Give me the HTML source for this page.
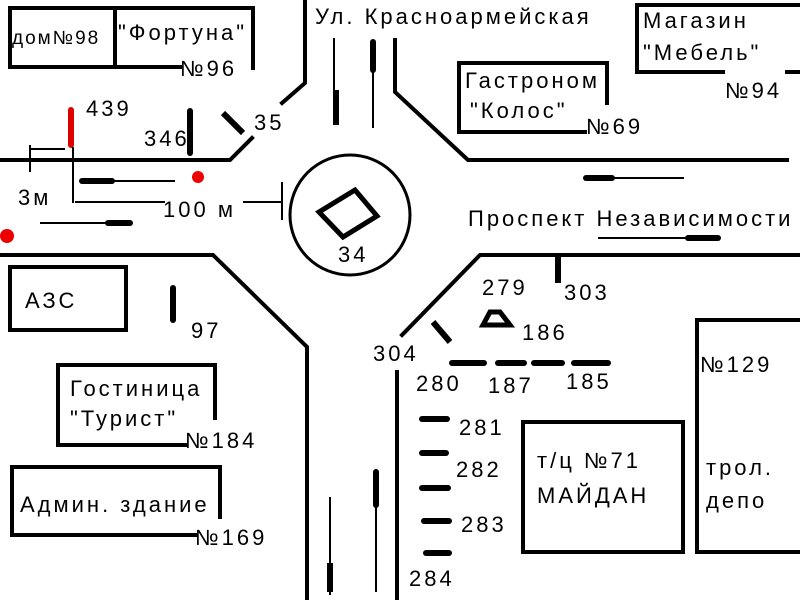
<!DOCTYPE html>
<html><head><meta charset="utf-8"><style>
html,body{margin:0;padding:0;background:#fff;}
svg{display:block;}
text{font-family:"Liberation Sans","DejaVu Sans",sans-serif;font-size:22px;letter-spacing:3px;fill:#000;}
</style></head><body>
<svg width="800" height="600" viewBox="0 0 800 600" xmlns="http://www.w3.org/2000/svg">
<g stroke="#000" stroke-width="4" fill="none" stroke-linecap="square">
<polyline points="0,160 230,160 252,138"/>
<polyline points="282,103 305,83 305,0"/>
<polyline points="395,40 395,92 468,160 787,160"/>
<polyline points="800,255 480,255 402,335"/>
<line x1="397" y1="372" x2="397" y2="600"/>
<polyline points="0,255 213,255 307,347 307,600"/>
<circle cx="350" cy="215" r="60" stroke-width="3"/>
<polygon points="355,190 377,216 343,237 319,212" stroke-width="5"/>
<polyline points="180,67 10,67 10,8 253,8 253,68"/>
<line x1="115" y1="8" x2="115" y2="67"/>
<polyline points="585,132 459,132 459,63 607,63 607,103"/>
<polyline points="723,72 637,72 637,5 800,5"/>
<line x1="787" y1="72" x2="800" y2="72"/>
<rect x="10" y="267" width="116" height="63"/>
<polyline points="185,445 58,445 58,365 215,365 215,418"/>
<polyline points="195,535 12,535 12,467 220,467 220,517"/>
<rect x="523" y="422" width="160" height="130"/>
<polyline points="800,320 697,320 697,552 800,552"/>
</g>
<g stroke="#000" fill="none">
<line x1="80" y1="181" x2="175" y2="181" stroke-width="2"/>
<line x1="82" y1="181" x2="112" y2="181" stroke-width="6" stroke-linecap="round"/>
<line x1="40" y1="223" x2="130" y2="223" stroke-width="2"/>
<line x1="108" y1="223" x2="130" y2="223" stroke-width="6" stroke-linecap="round"/>
<line x1="585" y1="178" x2="684" y2="178" stroke-width="2"/>
<line x1="586" y1="178" x2="612" y2="178" stroke-width="6" stroke-linecap="round"/>
<line x1="598" y1="238" x2="718" y2="238" stroke-width="2"/>
<line x1="688" y1="238" x2="718" y2="238" stroke-width="6" stroke-linecap="round"/>
<line x1="334" y1="38" x2="334" y2="125" stroke-width="2"/>
<line x1="336" y1="90" x2="336" y2="125" stroke-width="6"/>
<line x1="373" y1="40" x2="373" y2="128" stroke-width="2"/>
<line x1="373" y1="42" x2="373" y2="70" stroke-width="6" stroke-linecap="round"/>
<line x1="330" y1="497" x2="330" y2="595" stroke-width="2"/>
<line x1="330" y1="563" x2="330" y2="592" stroke-width="6"/>
<line x1="376" y1="470" x2="376" y2="592" stroke-width="2"/>
<line x1="376" y1="472" x2="376" y2="505" stroke-width="6" stroke-linecap="round"/>
<line x1="71" y1="110" x2="71" y2="145" stroke="#d00" stroke-width="6" stroke-linecap="round"/>
<line x1="190" y1="111" x2="190" y2="153" stroke-width="6" stroke-linecap="round"/>
<line x1="223" y1="113" x2="243" y2="133" stroke-width="6"/>
<line x1="173" y1="288" x2="173" y2="320" stroke-width="6" stroke-linecap="round"/>
<line x1="558" y1="255" x2="558" y2="283" stroke-width="6"/>
<line x1="433" y1="322" x2="450" y2="342" stroke-width="6"/>
<g stroke-width="6" stroke-linecap="round">
<line x1="452" y1="363" x2="484" y2="363"/>
<line x1="498" y1="363" x2="524" y2="363"/>
<line x1="534" y1="363" x2="562" y2="363"/>
<line x1="574" y1="363" x2="608" y2="363"/>
<line x1="422" y1="419" x2="447" y2="419"/>
<line x1="422" y1="453" x2="446" y2="453"/>
<line x1="422" y1="488" x2="448" y2="488"/>
<line x1="424" y1="521" x2="449" y2="521"/>
<line x1="426" y1="553" x2="449" y2="553"/>
</g>
<polygon points="483,325 510,325 500,312 490,312" stroke-width="5" fill="#fff"/>
<line x1="73" y1="147" x2="73" y2="203" stroke-width="2"/>
<line x1="30" y1="149" x2="65" y2="149" stroke-width="2"/>
<line x1="30" y1="145" x2="30" y2="172" stroke-width="2"/>
<line x1="75" y1="202" x2="165" y2="202" stroke-width="2"/>
<line x1="243" y1="202" x2="283" y2="202" stroke-width="2"/>
<line x1="282" y1="182" x2="282" y2="220" stroke-width="2"/>
</g>
<circle cx="198" cy="177" r="6" fill="#e00"/>
<circle cx="7" cy="236" r="7" fill="#e00"/>
<text x="315" y="24">Ул. Красноармейская</text>
<text x="468" y="226">Проспект Независимости</text>
<text x="12" y="44" style="font-size:19px;letter-spacing:2px">дом№98</text>
<text x="118" y="40">"Фортуна"</text>
<text x="180" y="76">№96</text>
<text x="465" y="88">Гастроном</text>
<text x="470" y="118">"Колос"</text>
<text x="586" y="134">№69</text>
<text x="643" y="28">Магазин</text>
<text x="643" y="60">"Мебель"</text>
<text x="725" y="98">№94</text>
<text x="86" y="116">439</text>
<text x="144" y="146">346</text>
<text x="254" y="130">35</text>
<text x="18" y="205">3м</text>
<text x="163" y="217">100 м</text>
<text x="338" y="262">34</text>
<text x="25" y="308">АЗС</text>
<text x="191" y="338">97</text>
<text x="70" y="396">Гостиница</text>
<text x="70" y="426">"Турист"</text>
<text x="185" y="448">№184</text>
<text x="20" y="512">Админ. здание</text>
<text x="195" y="545">№169</text>
<text x="482" y="295">279</text>
<text x="564" y="300">303</text>
<text x="522" y="340">186</text>
<text x="373" y="361">304</text>
<text x="416" y="391">280</text>
<text x="488" y="393">187</text>
<text x="566" y="389">185</text>
<text x="459" y="435">281</text>
<text x="456" y="477">282</text>
<text x="461" y="532">283</text>
<text x="409" y="586">284</text>
<text x="537" y="468">т/ц №71</text>
<text x="537" y="503">МАЙДАН</text>
<text x="700" y="372">№129</text>
<text x="706" y="475">трол.</text>
<text x="706" y="508">депо</text>
</svg>
</body></html>
